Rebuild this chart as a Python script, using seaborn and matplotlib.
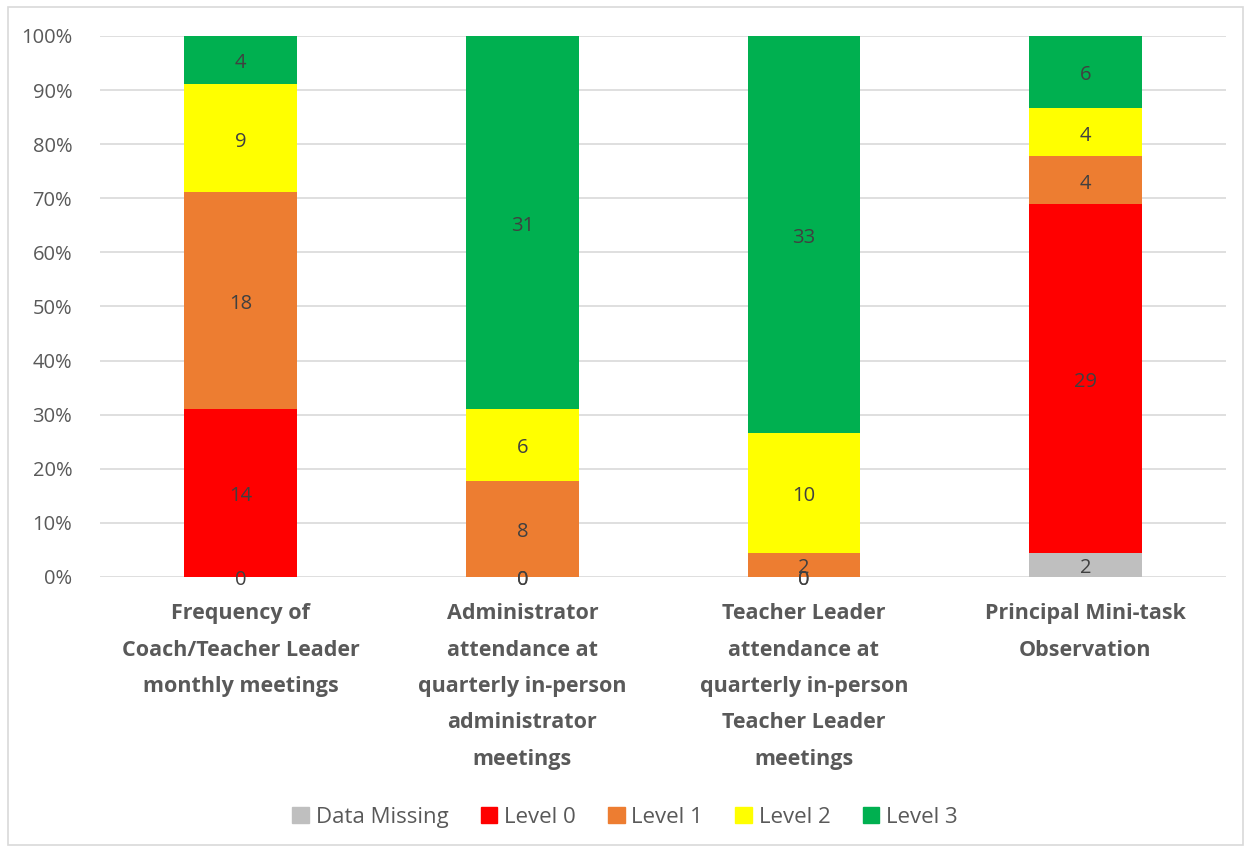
import matplotlib
matplotlib.use("Agg")
import matplotlib.pyplot as plt
import seaborn as sns
import pandas as pd
import numpy as np
from matplotlib.patches import Rectangle

categories = [
    "Frequency of\nCoach/Teacher Leader\nmonthly meetings",
    "Administrator\nattendance at\nquarterly in-person\nadministrator\nmeetings",
    "Teacher Leader\nattendance at\nquarterly in-person\nTeacher Leader\nmeetings",
    "Principal Mini-task\nObservation",
]
series = ["Data Missing", "Level 0", "Level 1", "Level 2", "Level 3"]
data_missing = [0, 0, 0, 2]
level0 = [14, 0, 0, 29]
level1 = [18, 8, 2, 4]
level2 = [9, 6, 10, 4]
level3 = [4, 31, 33, 6]
colors = ["#BFBFBF", "#FF0000", "#ED7D31", "#FFFF00", "#00B050"]
yticks = [0, 10, 20, 30, 40, 50, 60, 70, 80, 90, 100]

sns.set_theme(style="white")
plt.rcParams["font.family"] = ["Open Sans", "DejaVu Sans"]

counts = np.array([data_missing, level0, level1, level2, level3], dtype=float)
totals = counts.sum(axis=0)
pct = counts / totals * 100

fig = plt.figure(figsize=(12.5, 8.52), dpi=100)
ax = fig.add_axes([0.08, 0.3228, 0.901, 0.635])

bottom = np.zeros(len(categories))
for i, s in enumerate(series):
    df = pd.DataFrame({"cat": categories, "val": pct[i]})
    sns.barplot(data=df, x="cat", y="val", color=colors[i], bottom=bottom,
                width=0.4, ax=ax, label=s, saturation=1, linewidth=0, legend=False)
    cont = ax.containers[-1]
    anns = ax.bar_label(cont, labels=[f"{int(v)}" for v in counts[i]], label_type="center",
                        color="#404040", fontsize=14.5)
    for a in anns:
        a.xyann = (0, -2.5)
    bottom = bottom + pct[i]

if ax.get_legend() is not None:
    ax.get_legend().remove()

ax.set_ylim(0, 100)
ax.set_xlim(-0.5, 3.5)
ax.set_yticks(yticks)
ax.set_yticklabels([f"{t}%" for t in yticks], color="#595959", fontsize=14.5)
ax.yaxis.grid(True, color="#D9D9D9", linewidth=1.2)
ax.set_axisbelow(True)
for sp in ax.spines.values():
    sp.set_visible(False)
ax.set_xlabel("")
ax.set_ylabel("")
ax.tick_params(axis="both", length=0)
ax.tick_params(axis="y", pad=20)
ax.set_xticks(range(len(categories)))
ax.set_xticklabels(categories, fontsize=15.5, fontweight="bold", color="#595959",
                   linespacing=1.96)
ax.tick_params(axis="x", pad=19)

handles = [Rectangle((0, 0), 1, 1, color=c) for c in colors]
leg = fig.legend(handles, series, loc="center", bbox_to_anchor=(0.5, 0.041), ncol=5,
                 frameon=False, fontsize=16, handlelength=0.75, handleheight=0.75,
                 handletextpad=0.3, columnspacing=1.45)
for t in leg.get_texts():
    t.set_color("#595959")

fig.patches.append(Rectangle((0.006, 0.008), 0.988, 0.984, transform=fig.transFigure,
                             fill=False, edgecolor="#D9D9D9", linewidth=1.2))

fig.savefig("out.png", dpi=100)
